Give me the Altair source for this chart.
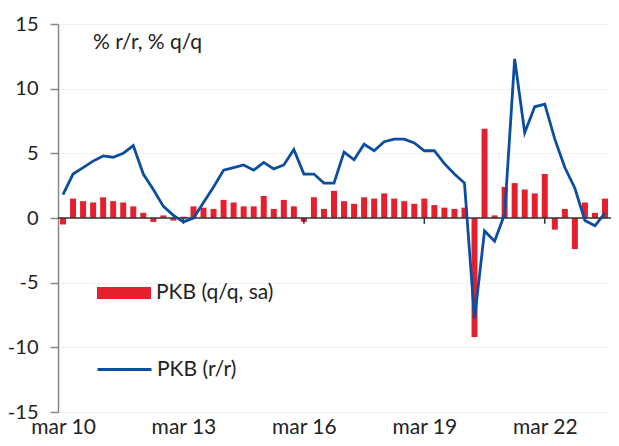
import altair as alt
import pandas as pd

# quarterly data, Q1 2010 ... Q3 2023
qq = [-0.5, 1.5, 1.3, 1.2, 1.6, 1.3, 1.2, 0.9, 0.4, -0.3,
      0.2, -0.2, 0.1, 0.9, 0.8, 0.7, 1.4, 1.2, 0.9, 0.9,
      1.7, 0.7, 1.4, 0.9, -0.3, 1.6, 0.7, 2.1, 1.3, 1.1,
      1.6, 1.5, 1.9, 1.5, 1.3, 1.1, 1.5, 1.0, 0.8, 0.7,
      0.8, -9.2, 6.9, 0.2, 2.4, 2.7, 2.2, 1.9, 3.4, -0.9,
      0.7, -2.4, 1.2, 0.4, 1.5]
rr = [1.8, 3.4, 3.9, 4.4, 4.8, 4.7, 5.0, 5.6, 3.4, 2.2,
      0.9, 0.2, -0.3, 0.0, 1.2, 2.4, 3.7, 3.9, 4.1, 3.7,
      4.3, 3.8, 4.1, 5.3, 3.4, 3.4, 2.7, 2.7, 5.1, 4.5,
      5.7, 5.2, 5.9, 6.1, 6.1, 5.8, 5.2, 5.2, 4.2, 3.4,
      2.7, -7.8, -1.0, -1.8, 0.3, 12.3, 6.6, 8.6, 8.8, 6.1,
      3.9, 2.3, -0.2, -0.6, 0.4]
tick_idx = [0, 12, 24, 36, 48]
tick_labels = ["mar 10", "mar 13", "mar 16", "mar 19", "mar 22"]
y_ticks = [-15, -10, -5, 0, 5, 10, 15]
s_bar = "PKB (q/q, sa)"
s_line = "PKB (r/r)"
unit_text = "% r/r, % q/q"

RED = "#E4202E"
BLUE = "#0B4EA0"
FONT = "Lato"
FS = 21

df = pd.DataFrame({"i": list(range(len(qq))), "qq": qq, "rr": rr,
                   "s1": s_bar, "s2": s_line})
ticks_df = pd.DataFrame({"t": tick_idx[1:], "z": 0, "z2": -0.45})
zero_df = pd.DataFrame({"z": [0]})

label_expr = "[" + ",".join("'%s'" % l for l in tick_labels) + "][round(datum.value/12)]"

xscale = alt.Scale(domain=[0, 54.1], nice=False, zero=False)
yscale = alt.Scale(domain=[-15, 15], nice=False)

xaxis = alt.Axis(values=tick_idx, labelExpr=label_expr, domain=False,
                 ticks=False, grid=False, labelFontSize=FS, labelFont=FONT,
                 labelColor="#222", labelPadding=4, title=None, labelFlush=False)
yaxis = alt.Axis(values=y_ticks, labelExpr="'' + datum.value",
                 labelFontSize=20, labelFont=FONT,
                 labelColor="#222", tickColor="#888", tickSize=8,
                 tickWidth=1.5, domainColor="#888", domainWidth=1.5,
                 grid=True, gridColor="#e4e4e4", gridDash=[2, 2],
                 labelPadding=12, title=None)

bars = alt.Chart(df).mark_bar(size=6, clip=True).encode(
    x=alt.X("i:Q", scale=xscale, axis=xaxis),
    y=alt.Y("qq:Q", scale=yscale, axis=yaxis),
    color=alt.Color("s1:N", scale=alt.Scale(domain=[s_bar], range=[RED]),
                    legend=alt.Legend(orient="none", legendX=38, legendY=241,
                                      title=None, symbolType="M-1,-0.22H1V0.22H-1Z",
                                      symbolSize=2916, symbolOpacity=1,
                                      labelFontSize=FS, labelFont=FONT,
                                      labelColor="#222", labelOffset=4, padding=0)),
)

zero = alt.Chart(zero_df).mark_rule(color="#333", strokeWidth=1.5).encode(
    y=alt.Y("z:Q", scale=yscale, axis=yaxis)
)

xt = alt.Chart(ticks_df).mark_rule(color="#333", strokeWidth=1.5).encode(
    x=alt.X("t:Q", scale=xscale, axis=xaxis),
    y=alt.Y("z:Q", scale=yscale, axis=yaxis),
    y2="z2:Q",
)

line = alt.Chart(df).mark_line(strokeWidth=2.8, clip=True).encode(
    x=alt.X("i:Q", scale=xscale, axis=xaxis),
    y=alt.Y("rr:Q", scale=yscale, axis=yaxis),
    stroke=alt.Stroke("s2:N", scale=alt.Scale(domain=[s_line], range=[BLUE]),
                      legend=alt.Legend(orient="none", legendX=38, legendY=317,
                                        title=None, symbolType="stroke",
                                        symbolSize=2916, symbolStrokeWidth=3,
                                        labelFontSize=FS, labelFont=FONT,
                                        labelColor="#222", labelOffset=4, padding=0)),
)

title = alt.Chart(pd.DataFrame({"t": [unit_text]})).mark_text(
    align="left", baseline="middle", fontSize=FS, font=FONT, color="#222"
).encode(x=alt.value(35), y=alt.value(19), text="t:N")

chart = alt.layer(bars, zero, xt, line, title).properties(
    width=553, height=388,
    autosize=alt.AutoSizeParams(type="none"),
    padding={"left": 50, "top": 16, "right": 0, "bottom": 34},
).configure_view(stroke=None)

chart.save("out.html", embed_options={"renderer": "svg", "actions": False})
